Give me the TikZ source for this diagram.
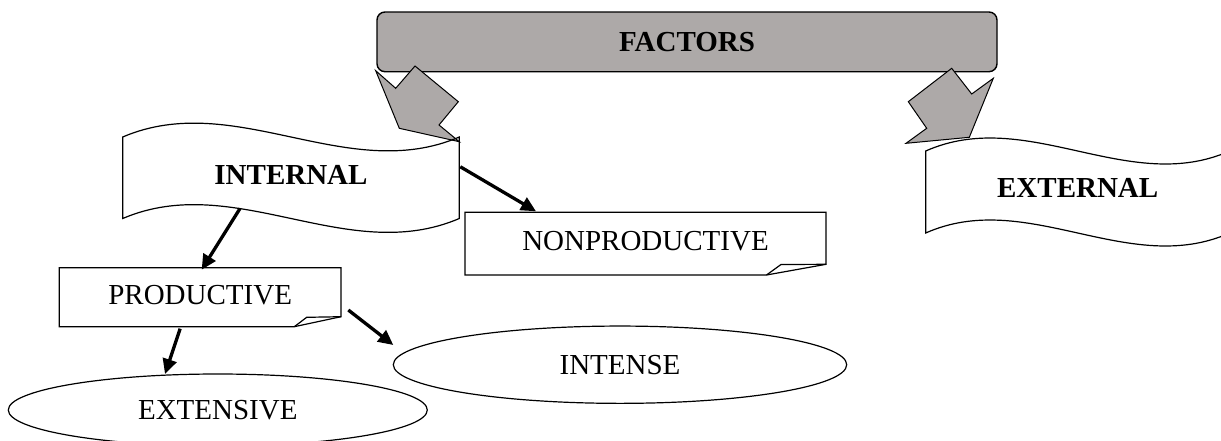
\documentclass[tikz,border=0pt]{standalone}
\usepackage{fontspec}
\setmainfont{Liberation Serif}
\usetikzlibrary{calc,arrows.meta,shapes.geometric}
\definecolor{bargray}{RGB}{173,169,168}
\newcommand{\wavedraw}[2]{%
  \draw[shp] (#1.north west) .. controls ($(#1.north west)!1/3!(#1.north east)+(0,-#2)$) and ($(#1.north west)!2/3!(#1.north east)+(0,#2)$) .. (#1.north east)
    -- (#1.south east) .. controls ($(#1.south west)!2/3!(#1.south east)+(0,#2)$) and ($(#1.south west)!1/3!(#1.south east)+(0,-#2)$) .. (#1.south west) -- cycle;}
\newcommand{\folddraw}[5]{%
  \draw[shp] (#1.north west) -- (#1.north east) -- ($(#1.south east)+(0,-#3)$) -- ($(#1.south east)+(-#2,0)$) -- (#1.south west) -- cycle;
  \draw[shp] ($(#1.south east)+(-#2,0)$) -- ($(#1.south east)+(-#4,-#5)$) -- ($(#1.south east)+(0,-#3)$);}
\begin{document}
\begin{tikzpicture}[x=1pt,y=-1pt,
  lbl/.style={font=\fontsize{29pt}{34pt}\selectfont, inner sep=0pt, outer sep=0pt},
  shp/.style={draw=black, line width=1.2pt, line join=miter},
  blockarrow/.style={draw=black, fill=bargray, line width=1pt, line join=miter},
  conn/.style={line width=3.3pt, -{Triangle[length=15pt,width=14pt]}},
  ellnode/.style={lbl, ellipse, draw=black, line width=1.2pt}]
\useasboundingbox (0,0) rectangle (1221,440);
\fill[white] (0,0) rectangle (1221,440);
\clip (0,0) rectangle (1221,440);

% top bar
\node[lbl, draw=black, fill=bargray, line width=1.4pt, rounded corners=8pt,
      minimum width=620pt, minimum height=59.7pt, font=\fontsize{29pt}{34pt}\selectfont\bfseries]
      (factors) at (687,41.85) {FACTORS};

% block arrows
\draw[blockarrow] (375.7,70.7) -- (395.7,88.3) -- (415,66) -- (458.3,101.7) -- (439,125) -- (459.3,141.7) -- (399.3,128.3) -- cycle;
\draw[blockarrow] (951.7,68.3) -- (971.7,94) -- (993.3,78.3) -- (969.3,137.3) -- (906,143.3) -- (926.7,128.3) -- (908.3,101.7) -- cycle;

% wave banners
\node[lbl, minimum width=336.6pt, minimum height=81.5pt, text depth=4.7pt,
      font=\fontsize{29pt}{34pt}\selectfont\bfseries] (internal) at (291,177.75) {INTERNAL};
\wavedraw{internal}{48}
\node[lbl, minimum width=304pt, minimum height=82pt, text depth=8.6pt,
      font=\fontsize{29pt}{34pt}\selectfont\bfseries] (external) at (1077.7,192) {EXTERNAL};
\wavedraw{external}{45}

% folded-corner boxes
\node[lbl, minimum width=361pt, minimum height=62.7pt, text depth=5.1pt] (nonprod) at (645.5,243.65) {NONPRODUCTIVE};
\folddraw{nonprod}{59.5}{10.7}{45}{10.5}
\node[lbl, minimum width=281.7pt, minimum height=59pt, text depth=5.6pt] (prod) at (200.15,297.2) {PRODUCTIVE};
\folddraw{prod}{46.7}{10}{34.3}{9.4}

% ellipses
\node[ellnode, minimum width=453.4pt, minimum height=77.3pt] (intense) at (620,364.7) {INTENSE};
\node[ellnode, minimum width=419pt, minimum height=72pt] (extensive) at (217.8,410) {EXTENSIVE};

% connectors
\draw[conn] ($(internal.south)+(-51,-10)$) -- ($(prod.north)+(1.5,2)$);
\draw[conn] ($(internal.east)+(1,-11)$) -- ($(nonprod.north west)+(71,-1)$);
\draw[conn] ($(prod.south)+(-20,2)$) -- ($(extensive.north)+(-52.8,0)$);
\draw[conn] ($(prod.east)+(7.3,12.8)$) -- ($(intense.west)+(0,-19.7)$);
\end{tikzpicture}
\end{document}
